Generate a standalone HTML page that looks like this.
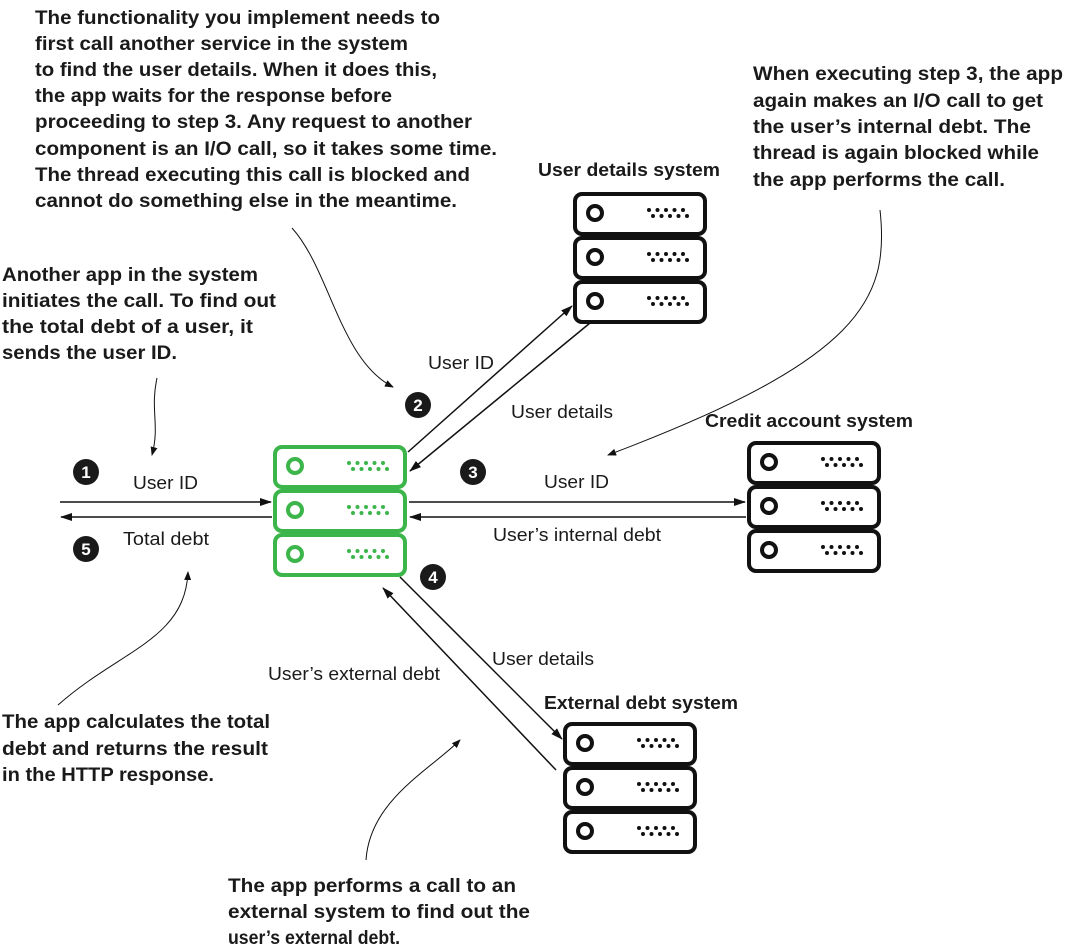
<!DOCTYPE html>
<html><head><meta charset="utf-8"><style>
html,body{margin:0;padding:0;background:#fff;}
svg{display:block;}
.b{font-family:"Liberation Sans",sans-serif;font-weight:bold;font-size:19px;fill:#1a1a1a;}
.r{font-family:"Liberation Sans",sans-serif;font-size:18px;fill:#1a1a1a;}
.t{font-family:"Liberation Sans",sans-serif;font-weight:bold;font-size:18px;fill:#1a1a1a;}
.n{font-family:"Liberation Sans",sans-serif;font-weight:bold;font-size:17px;fill:#fff;text-anchor:middle;}
</style></head><body>
<svg width="1069" height="951" viewBox="0 0 1069 951" xmlns="http://www.w3.org/2000/svg">
<defs>
<g id="row">
<rect x="2" y="2" width="130" height="40" rx="7" fill="#fff" stroke="currentColor" stroke-width="4"/>
<circle cx="22" cy="21" r="7" fill="none" stroke="currentColor" stroke-width="4"/>
<g fill="currentColor">
<circle cx="76" cy="18" r="2"/><circle cx="84.5" cy="18" r="2"/><circle cx="93" cy="18" r="2"/><circle cx="101.5" cy="18" r="2"/><circle cx="110" cy="18" r="2"/>
<circle cx="80" cy="24" r="2"/><circle cx="88.5" cy="24" r="2"/><circle cx="97" cy="24" r="2"/><circle cx="105.5" cy="24" r="2"/><circle cx="114" cy="24" r="2"/>
</g>
</g>
<marker id="a" markerWidth="12" markerHeight="8" refX="11" refY="4" orient="auto" markerUnits="userSpaceOnUse"><path d="M0,0 L12,4 L0,8 z" fill="#111"/></marker>
<marker id="s" markerWidth="9" markerHeight="7" refX="8" refY="3.5" orient="auto" markerUnits="userSpaceOnUse"><path d="M0,0 L9,3.5 L0,7 z" fill="#111"/></marker>
</defs>

<g color="#3cb54a">
<use href="#row" x="273" y="445"/><use href="#row" x="273" y="489"/><use href="#row" x="273" y="533"/>
</g>
<g color="#111">
<use href="#row" x="573" y="192"/><use href="#row" x="573" y="236"/><use href="#row" x="573" y="280"/>
<use href="#row" x="747" y="441"/><use href="#row" x="747" y="485"/><use href="#row" x="747" y="529"/>
<use href="#row" x="563" y="722"/><use href="#row" x="563" y="766"/><use href="#row" x="563" y="810"/>
</g>

<g stroke="#111" stroke-width="1.5" fill="none">
<line x1="60" y1="502" x2="271" y2="502" marker-end="url(#a)"/>
<line x1="272" y1="517" x2="61" y2="517" marker-end="url(#a)"/>
<line x1="409" y1="502" x2="745" y2="502" marker-end="url(#a)"/>
<line x1="746" y1="517" x2="410" y2="517" marker-end="url(#a)"/>
<line x1="408" y1="452" x2="572" y2="306" marker-end="url(#a)"/>
<line x1="590" y1="323" x2="410" y2="471" marker-end="url(#a)"/>
<line x1="400" y1="577" x2="562" y2="739" marker-end="url(#a)"/>
<line x1="556" y1="770" x2="383" y2="588" marker-end="url(#a)"/>
<path d="M292,228 C330,270 340,360 393,387" marker-end="url(#s)" stroke-width="1"/>
<path d="M157,378 C150,410 160,425 152,455" marker-end="url(#s)" stroke-width="1"/>
<path d="M880,210 C890,300 860,360 608,455" marker-end="url(#s)" stroke-width="1"/>
<path d="M58,705 C120,650 185,640 188,572" marker-end="url(#s)" stroke-width="1"/>
<path d="M366,860 C370,800 430,770 460,740" marker-end="url(#s)" stroke-width="1"/>
</g>

<g fill="#1a1a1a">
<circle cx="86" cy="472" r="13"/><circle cx="418" cy="405" r="13"/><circle cx="473" cy="472" r="13"/><circle cx="433" cy="577" r="13"/><circle cx="86" cy="549" r="13"/>
</g>
<text class="n" x="86" y="478">1</text><text class="n" x="418" y="411">2</text><text class="n" x="473" y="478">3</text><text class="n" x="433" y="583">4</text><text class="n" x="86" y="555">5</text>

<text class="r" x="133" y="489" textLength="65" lengthAdjust="spacingAndGlyphs">User ID</text>
<text class="r" x="123" y="545" textLength="86" lengthAdjust="spacingAndGlyphs">Total debt</text>
<text class="r" x="428" y="369" textLength="66" lengthAdjust="spacingAndGlyphs">User ID</text>
<text class="r" x="511" y="418" textLength="102" lengthAdjust="spacingAndGlyphs">User details</text>
<text class="r" x="544" y="488" textLength="65" lengthAdjust="spacingAndGlyphs">User ID</text>
<text class="r" x="493" y="541" textLength="168" lengthAdjust="spacingAndGlyphs">User’s internal debt</text>
<text class="r" x="492" y="665" textLength="102" lengthAdjust="spacingAndGlyphs">User details</text>
<text class="r" x="268" y="680" textLength="172" lengthAdjust="spacingAndGlyphs">User’s external debt</text>
<text class="t" x="538" y="176" textLength="182" lengthAdjust="spacingAndGlyphs">User details system</text>
<text class="t" x="705" y="427" textLength="208" lengthAdjust="spacingAndGlyphs">Credit account system</text>
<text class="t" x="544" y="709" textLength="194" lengthAdjust="spacingAndGlyphs">External debt system</text>

<g class="b">
<text x="35" y="24" textLength="405" lengthAdjust="spacingAndGlyphs">The functionality you implement needs to</text>
<text x="35" y="50" textLength="373" lengthAdjust="spacingAndGlyphs">first call another service in the system</text>
<text x="35" y="76" textLength="402" lengthAdjust="spacingAndGlyphs">to find the user details. When it does this,</text>
<text x="35" y="102" textLength="357" lengthAdjust="spacingAndGlyphs">the app waits for the response before</text>
<text x="35" y="128" textLength="437" lengthAdjust="spacingAndGlyphs">proceeding to step 3. Any request to another</text>
<text x="35" y="155" textLength="462" lengthAdjust="spacingAndGlyphs">component is an I/O call, so it takes some time.</text>
<text x="35" y="181" textLength="435" lengthAdjust="spacingAndGlyphs">The thread executing this call is blocked and</text>
<text x="35" y="207" textLength="422" lengthAdjust="spacingAndGlyphs">cannot do something else in the meantime.</text>

<text x="2" y="281" textLength="256" lengthAdjust="spacingAndGlyphs">Another app in the system</text>
<text x="2" y="307" textLength="274" lengthAdjust="spacingAndGlyphs">initiates the call. To find out</text>
<text x="2" y="333" textLength="251" lengthAdjust="spacingAndGlyphs">the total debt of a user, it</text>
<text x="2" y="359" textLength="175" lengthAdjust="spacingAndGlyphs">sends the user ID.</text>

<text x="753" y="80" textLength="310" lengthAdjust="spacingAndGlyphs">When executing step 3, the app</text>
<text x="753" y="107" textLength="290" lengthAdjust="spacingAndGlyphs">again makes an I/O call to get</text>
<text x="753" y="133" textLength="278" lengthAdjust="spacingAndGlyphs">the user’s internal debt. The</text>
<text x="753" y="159" textLength="286" lengthAdjust="spacingAndGlyphs">thread is again blocked while</text>
<text x="753" y="186" textLength="252" lengthAdjust="spacingAndGlyphs">the app performs the call.</text>

<text x="2" y="728" textLength="268" lengthAdjust="spacingAndGlyphs">The app calculates the total</text>
<text x="2" y="755" textLength="266" lengthAdjust="spacingAndGlyphs">debt and returns the result</text>
<text x="2" y="781" textLength="212" lengthAdjust="spacingAndGlyphs">in the HTTP response.</text>

<text x="228" y="892" textLength="288" lengthAdjust="spacingAndGlyphs">The app performs a call to an</text>
<text x="228" y="918" textLength="302" lengthAdjust="spacingAndGlyphs">external system to find out the</text>
<text x="228" y="944" textLength="172" lengthAdjust="spacingAndGlyphs">user’s external debt.</text>
</g>
</svg>
</body></html>
